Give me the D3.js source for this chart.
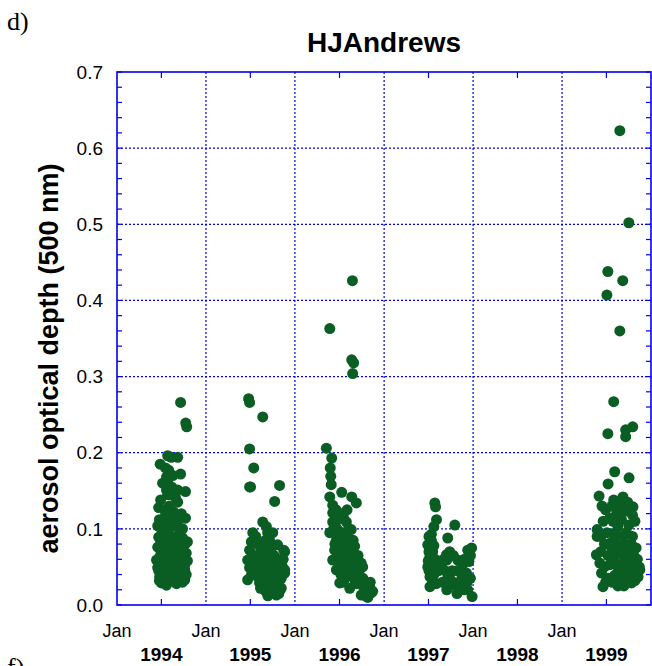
<!DOCTYPE html>
<html><head><meta charset="utf-8">
<script src="https://cdn.jsdelivr.net/npm/d3@7"></script>
<style>html,body{margin:0;padding:0;background:#fff;}svg{display:block;}</style>
</head><body>
<script>
// [day of year, aerosol optical depth at 500 nm]
const obs1994 = [[209,0.196],[224,0.194],[250,0.194],[213,0.177],[262,0.172],[204,0.168],[209,0.162],[250,0.151],[282,0.149],[204,0.151],[209,0.145],[241,0.141],[172,0.128],[197,0.125],[234,0.122],[217,0.114],[282,0.114],[168,0.104],[217,0.101],[258,0.097],[172,0.089],[197,0.092],[230,0.089],[258,0.088],[290,0.083],[168,0.076],[197,0.075],[238,0.075],[279,0.079],[176,0.063],[209,0.066],[250,0.063],[271,0.066],[163,0.059],[197,0.055],[230,0.055],[279,0.053],[168,0.049],[204,0.046],[245,0.049],[279,0.046],[176,0.037],[209,0.035],[238,0.033],[279,0.033],[183,0.029],[204,0.026],[262,0.266],[283,0.239],[287,0.234],[190,0.110],[225,0.080],[260,0.070],[215,0.130],[185,0.095],[240,0.105],[265,0.058],[180,0.072],
  [178,0.185],[200,0.180],[230,0.170],[188,0.160],[225,0.155],[215,0.145],[180,0.138],[250,0.135],[200,0.118],[265,0.120],[175,0.112],[250,0.110],[205,0.105],[270,0.100],[180,0.082],[215,0.085],[245,0.082],[270,0.088],[188,0.070],[220,0.068],[255,0.072],[285,0.068],[172,0.045],[188,0.052],[220,0.048],[260,0.045],[290,0.058],[192,0.038],[225,0.040],[255,0.036],[270,0.030],[195,0.030],[245,0.028],[175,0.032],[285,0.040]];
const obs1995 = [[180,0.155],[303,0.157],[283,0.136],[234,0.109],[249,0.103],[254,0.095],[193,0.095],[187,0.083],[295,0.079],[320,0.072],[249,0.077],[180,0.072],[242,0.066],[172,0.059],[254,0.057],[295,0.059],[180,0.049],[242,0.050],[283,0.046],[324,0.046],[172,0.033],[213,0.037],[254,0.037],[310,0.035],[221,0.029],[269,0.026],[303,0.024],[249,0.017],[283,0.016],[176,0.271],[180,0.266],[234,0.247],[180,0.205],[197,0.180],[184,0.155],[197,0.044],[249,0.024],[290,0.013],[324,0.042],[324,0.070],[275,0.095],[262,0.085],[230,0.062],[205,0.052],[300,0.030],[265,0.045],
  [205,0.090],[215,0.080],[225,0.075],[245,0.085],[270,0.075],[280,0.065],[310,0.060],[215,0.060],[235,0.055],[260,0.060],[290,0.050],[315,0.050],[220,0.045],[245,0.040],[275,0.035],[300,0.040],[230,0.030],[260,0.030],[290,0.025],[310,0.022],[240,0.020],[270,0.018],[300,0.015],[225,0.022],[255,0.012],[200,0.065],[188,0.040],[318,0.060]];
const obs1996 = [[130,0.206],[152,0.193],[146,0.180],[148,0.169],[150,0.158],[144,0.142],[193,0.148],[234,0.142],[253,0.134],[156,0.131],[156,0.121],[156,0.109],[212,0.109],[144,0.095],[232,0.099],[171,0.085],[217,0.088],[246,0.077],[164,0.072],[205,0.072],[156,0.059],[197,0.057],[232,0.059],[273,0.055],[171,0.046],[217,0.044],[258,0.042],[279,0.050],[185,0.029],[226,0.022],[246,0.033],[273,0.013],[308,0.024],[314,0.016],[294,0.029],[176,0.099],[191,0.064],[238,0.068],[212,0.037],[237,0.426],[144,0.363],[234,0.322],[242,0.318],[238,0.304],[200,0.115],[225,0.082],[185,0.078],[260,0.065],[300,0.010],[165,0.105],
  [160,0.100],[170,0.110],[180,0.090],[195,0.095],[210,0.090],[222,0.100],[165,0.080],[190,0.085],[200,0.080],[230,0.075],[175,0.065],[200,0.068],[220,0.060],[245,0.055],[180,0.055],[205,0.048],[225,0.050],[250,0.045],[190,0.040],[235,0.038],[265,0.040],[200,0.030],[255,0.028],[280,0.035],[285,0.020],[300,0.022],[320,0.018],[310,0.030],[215,0.125],[190,0.120],[170,0.125],[240,0.085],[265,0.030],[290,0.012]];
const obs1997 = [[209,0.134],[212,0.129],[216,0.112],[205,0.103],[291,0.105],[262,0.088],[189,0.081],[344,0.072],[189,0.064],[257,0.066],[303,0.059],[180,0.050],[237,0.050],[339,0.042],[189,0.037],[262,0.035],[189,0.024],[262,0.022],[303,0.024],[344,0.020],[362,0.011],[360,0.075],[349,0.057],[340,0.029],[258,0.059],[258,0.020],[180,0.079],[200,0.070],[225,0.045],[280,0.045],[320,0.035],[195,0.093],
  [185,0.090],[195,0.085],[205,0.078],[185,0.070],[210,0.060],[182,0.058],[200,0.050],[185,0.045],[205,0.040],[200,0.030],[215,0.028],[245,0.060],[270,0.070],[250,0.045],[270,0.040],[285,0.030],[300,0.045],[320,0.050],[330,0.060],[355,0.065],[300,0.015],[330,0.020],[355,0.035],[285,0.065],[240,0.030]];
const obs1999 = [[217,0.175],[276,0.167],[190,0.159],[153,0.143],[251,0.142],[213,0.138],[292,0.129],[258,0.123],[197,0.114],[290,0.118],[231,0.109],[145,0.099],[145,0.090],[210,0.094],[251,0.090],[265,0.079],[197,0.081],[142,0.066],[272,0.068],[217,0.064],[156,0.055],[197,0.053],[251,0.055],[292,0.053],[320,0.046],[163,0.042],[217,0.039],[265,0.039],[313,0.037],[169,0.024],[251,0.031],[286,0.029],[230,0.103],[238,0.623],[275,0.502],[189,0.438],[250,0.426],[185,0.407],[238,0.360],[213,0.267],[189,0.225],[262,0.230],[291,0.234],[262,0.221],[230,0.070],[240,0.048],[205,0.075],[280,0.060],[225,0.120],[300,0.045],
  [165,0.130],[180,0.125],[205,0.130],[240,0.130],[270,0.135],[170,0.110],[210,0.110],[245,0.112],[275,0.105],[300,0.110],[160,0.090],[185,0.095],[225,0.092],[265,0.095],[290,0.090],[175,0.080],[215,0.082],[245,0.078],[285,0.080],[305,0.075],[160,0.070],[190,0.065],[255,0.065],[295,0.065],[310,0.060],[175,0.050],[225,0.052],[270,0.050],[300,0.048],[190,0.035],[240,0.035],[280,0.040],[300,0.032],[205,0.030],[255,0.025],[180,0.030],[230,0.025],[318,0.050]];
const years = [1994, 1995, 1996, 1997, 1998, 1999];
const yTicks = [0.0, 0.1, 0.2, 0.3, 0.4, 0.5, 0.6, 0.7];
const titleText = "HJAndrews";
const yLabel = "aerosol optical depth (500 nm)";

const W = 652, H = 666;
const L = 117, R = 651, T = 72, B = 605;
const blue = "#0000ee", green = "#0b5e23";

const svg = d3.select("body").append("svg").attr("width", W).attr("height", H);

const x = d3.scaleTime().domain([new Date(1994,0,1), new Date(2000,0,1)]).range([L, R]);
const y = d3.scaleLinear().domain([0, 0.7]).range([B, T]);

const toDate = (yr, d) => d3.timeDay.offset(new Date(yr,0,1), d - 1);
const points = [];
[[1994,obs1994],[1995,obs1995],[1996,obs1996],[1997,obs1997],[1999,obs1999]].forEach(([yr, arr]) => {
  arr.forEach(([d, v]) => points.push({date: toDate(yr, d), v}));
});

// gridlines
const gx = years.slice(1).map(yr => new Date(yr,0,1));
svg.append("g").selectAll("line").data(gx).join("line")
  .attr("x1", d => x(d)).attr("x2", d => x(d)).attr("y1", T).attr("y2", B)
  .attr("stroke", blue).attr("stroke-width", 1.2).attr("stroke-dasharray", "2,2");
svg.append("g").selectAll("line").data(yTicks.slice(1, -1)).join("line")
  .attr("x1", L).attr("x2", R).attr("y1", d => y(d)).attr("y2", d => y(d))
  .attr("stroke", blue).attr("stroke-width", 1.2).attr("stroke-dasharray", "2,2");

// minor ticks
const minorY = d3.range(0, 0.701, 0.02);
const tickG = svg.append("g").attr("stroke", blue).attr("stroke-width", 1.2);
tickG.selectAll(".ml").data(minorY).join("line").attr("class","ml")
  .attr("x1", L).attr("x2", L + 5).attr("y1", d => y(d)).attr("y2", d => y(d));
tickG.selectAll(".mr").data(minorY).join("line").attr("class","mr")
  .attr("x1", R - 5).attr("x2", R).attr("y1", d => y(d)).attr("y2", d => y(d));
const midYears = years.map(yr => new Date(yr,6,2));
tickG.selectAll(".mb").data(midYears).join("line").attr("class","mb")
  .attr("x1", d => x(d)).attr("x2", d => x(d)).attr("y1", B).attr("y2", B - 6);
tickG.selectAll(".mt").data(midYears).join("line").attr("class","mt")
  .attr("x1", d => x(d)).attr("x2", d => x(d)).attr("y1", T).attr("y2", T + 6);

// points
svg.append("g").selectAll("circle").data(points).join("circle")
  .attr("cx", d => x(d.date)).attr("cy", d => y(d.v)).attr("r", 5.5)
  .attr("fill", green);

// frame
svg.append("rect").attr("x", L).attr("y", T).attr("width", R - L).attr("height", B - T)
  .attr("fill", "none").attr("stroke", blue).attr("stroke-width", 1.6);

// y tick labels
svg.append("g").selectAll("text").data(yTicks).join("text")
  .attr("x", 103).attr("y", d => y(d)).attr("dy", "0.35em")
  .attr("text-anchor", "end").attr("font-family", "Liberation Sans, Arial, sans-serif")
  .attr("font-size", 19).attr("fill", "#000").text(d => d.toFixed(1));

// x labels: Jan at each year start, year bold at mid-year
svg.append("g").selectAll("text").data(years.map(yr => new Date(yr,0,1))).join("text")
  .attr("x", d => x(d)).attr("y", 637).attr("text-anchor", "middle")
  .attr("font-family", "Liberation Sans, Arial, sans-serif").attr("font-size", 18)
  .text("Jan");
svg.append("g").selectAll("text").data(years).join("text")
  .attr("x", yr => x(new Date(yr,6,2))).attr("y", 661).attr("text-anchor", "middle")
  .attr("font-family", "Liberation Sans, Arial, sans-serif").attr("font-size", 19)
  .attr("font-weight", "bold").text(yr => yr);

// title
svg.append("text").attr("x", (L + R) / 2).attr("y", 52).attr("text-anchor", "middle")
  .attr("font-family", "Liberation Sans, Arial, sans-serif").attr("font-size", 28)
  .attr("font-weight", "bold").text(titleText);

// y label
svg.append("text").attr("transform", `translate(58,${(T + B) / 2 + 20}) rotate(-90)`)
  .attr("text-anchor", "middle")
  .attr("font-family", "Liberation Sans, Arial, sans-serif").attr("font-size", 27)
  .attr("font-weight", "bold").text(yLabel);

// panel letters
svg.append("text").attr("x", 7).attr("y", 30)
  .attr("font-family", "Liberation Serif, Times New Roman, serif").attr("font-size", 26).text("d)");
svg.append("text").attr("x", 7).attr("y", 676)
  .attr("font-family", "Liberation Serif, Times New Roman, serif").attr("font-size", 26).text("f)");
</script>
</body></html>
